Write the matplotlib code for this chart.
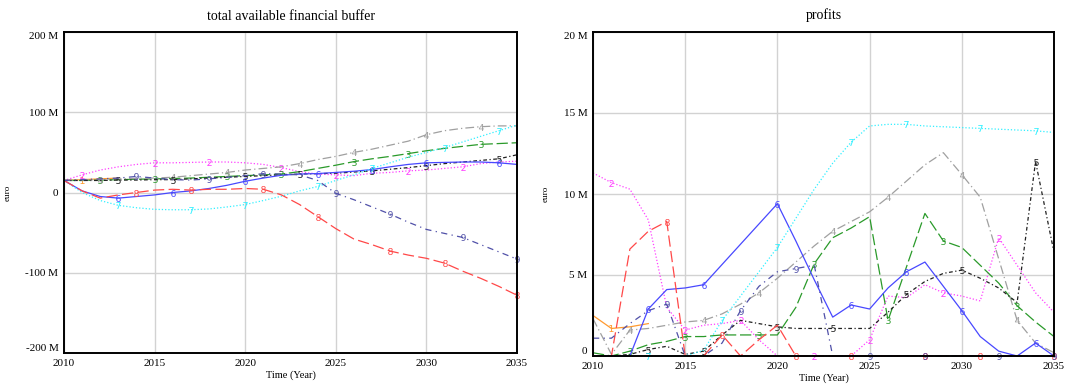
import numpy as np
import matplotlib
matplotlib.use('Agg')
import matplotlib.pyplot as plt

plt.rcParams['font.family'] = ['Liberation Serif', 'DejaVu Serif']

# time axis (annual)
years = np.arange(2010, 2036)
years_1 = np.arange(2010, 2014)

# total available financial buffer, million euro, series 1..9
buf1 = [15, 16, 17, 18]
buf2 = [15, 22, 28, 32, 35, 37, 37, 37.5, 38, 38, 37, 35, 31, 26, 23, 22,
        21, 24, 25, 27, 28, 30, 32, 36, 38, 39]
buf3 = [15, 15, 15.5, 16, 16.5, 17, 17.5, 18, 19, 20, 21, 22, 23, 26, 30, 34,
        38.5, 42, 45, 48.5, 52, 55, 57.5, 60, 61, 62]
buf4 = [15, 15.5, 16, 17, 17.5, 18, 19, 21, 23, 25, 28, 30, 32, 36, 41, 45,
        50, 54, 59, 64, 72, 77, 80, 82, 83, 83]
buf5 = [15, 15, 15, 15.5, 15.5, 16, 16, 17, 18, 19, 20, 21, 22, 23, 23.5, 24,
        25.5, 27, 29, 31, 33.5, 36, 38, 40, 42, 47]
buf6 = [15, 2, -5, -7, -5, -3, 0, 2, 5, 9, 14, 18, 21.5, 23, 23.6, 25, 26.5,
        28.6, 32, 35, 37, 37.5, 38, 38, 37, 35]
buf7 = [15, 0, -10, -16, -19, -21, -21.5, -21.5, -20.5, -18, -15, -10, -4.6,
        2, 7.5, 15, 22, 30, 37, 44, 50, 56, 63, 70, 77, 84]
buf8 = [15, 2, -7, -3, 0, 3, 4, 3, 4, 4, 5, 4, -3, -15, -30, -45, -58, -65,
        -73, -78, -82, -88, -98, -107, -117, -128]
buf9 = [15, 16, 17, 18, 20, 18, 16, 15.5, 17, 19, 21, 23.5, 23, 22, 15, -1,
        -9, -18, -27, -37, -46, -51, -56, -65, -74, -83]

# profits, million euro, series 1..9
prof1 = [2.5, 1.7, 1.8, 2.0]
prof2 = [11.3, 10.7, 10.3, 8.4, 3.0, 1.6, 1.9, 2.0, 2.2, 1.0, 0, 0, 0, 0, 0,
         1.0, 3.7, 3.6, 4.4, 3.9, 3.7, 3.4, 7.3, 5.6, 3.9, 2.7]
prof3 = [0.2, 0, 0.3, 0.7, 0.9, 1.2, 1.2, 1.3, 1.3, 1.3, 1.3, 3.0, 5.7, 7.3,
         7.9, 8.6, 2.2, 5.5, 8.8, 7.1, 6.7, 5.6, 4.5, 3.1, 2.1, 1.2]
prof4 = [2.3, 0.1, 1.6, 1.7, 1.9, 2.1, 2.2, 2.6, 3.2, 3.9, 4.8, 5.8, 6.8, 7.7,
         8.3, 8.9, 9.8, 10.8, 11.8, 12.55, 11.2, 9.8, 6.0, 2.2, 0.8, 0.2]
prof5 = [0, 0, 0.1, 0.4, 0.6, 0.1, 0.3, 1.3, 2.2, 2.0, 1.8, 1.7, 1.7, 1.7,
         1.7, 1.7, 2.7, 3.8, 4.6, 5.1, 5.3, 4.8, 4.2, 3.3, 12.0, 6.4]
prof6 = [0, 0, 0, 2.9, 4.1, 4.2, 4.4, 5.65, 6.9, 8.15, 9.4, 7.1, 4.7, 2.4,
         3.15, 2.9, 4.2, 5.2, 5.8, 4.3, 2.8, 1.2, 0.3, 0, 0.8, 0]
prof7 = [0, 0, 0, 0, 0, 0, 0.35, 2.2, 3.7, 5.2, 6.7, 8.5, 10.3, 11.9, 13.2,
         14.2, 14.3, 14.3, 14.2, 14.15, 14.1, 14.05, 14.0, 13.95, 13.9, 13.8]
prof8 = [0, 0, 6.6, 7.7, 8.3, 0, 0, 1.3, 0, 1.0, 1.9, 0, 0, 0, 0, 0, 0, 0, 0,
         0, 0, 0, 0, 0, 0, 0]
prof9 = [1.1, 1.1, 2.0, 2.8, 3.2, 0, 0, 0.8, 2.8, 4.3, 5.2, 5.4, 5.6, 0, 0, 0,
         0, 0, 0, 0, 0, 0, 0, 0, 0, 0]

buf_ticks = [-200, -100, 0, 100, 200]
buf_labels = ['-200 M', '-100 M', '0', '100 M', '200 M']
prof_ticks = [0, 5, 10, 15, 20]
prof_labels = ['0', '5 M', '10 M', '15 M', '20 M']
year_ticks = [2010, 2015, 2020, 2025, 2030, 2035]

# line styles per series number
colors = {1: '#ff9a30', 2: '#ff40ff', 3: '#2a9a2a', 4: '#a0a0a0', 5: '#202020',
          6: '#4848ff', 7: '#30f0ff', 8: '#ff4848', 9: '#5050a8'}
dashes = {1: None, 2: (1, 1.6), 3: (9, 3), 4: (7, 2.5, 1, 2.5), 5: (3, 2, 1, 2),
          6: None, 7: (1, 1.6), 8: (9, 3.5), 9: (5, 3.5, 1, 3.5)}


def draw_series(ax, x, y, n):
    # number markers spread along the line, staggered per series
    marks = np.round(1 + 0.4 * (n - 1) + 3.5 * np.arange(8)).astype(int)
    marks = [int(m) for m in marks if m < len(y)]
    line, = ax.plot(x, y, color=colors[n], lw=0.9, marker='$%d$' % n,
                    markersize=5, markeredgewidth=0, markevery=marks,
                    clip_on=False)
    if dashes[n] is not None:
        line.set_dashes(dashes[n])


def style_axes(ax, title, ticks, labels):
    ax.set_xlim(2010, 2035)
    ax.set_ylim(ticks[0], ticks[-1])
    ax.set_xticks(year_ticks)
    ax.set_yticks(ticks)
    ax.set_yticklabels(labels)
    ax.grid(True, color='#d2d2d2', lw=1)
    ax.set_axisbelow(True)
    ax.tick_params(length=0, labelsize=8, pad=4)
    tl = ax.get_yticklabels()
    tl[0].set_va('bottom')
    tl[-1].set_va('top')
    for s in ax.spines.values():
        s.set_linewidth(1.4)
        s.set_color('black')
    ax.set_title(title, fontsize=10, pad=9)
    ax.set_xlabel('Time (Year)', fontsize=7.5, labelpad=2)
    ax.set_ylabel('euro', fontsize=6.5)


fig = plt.figure(figsize=(10.67, 3.85), dpi=100)
ax1 = fig.add_axes([64 / 1067, 1 - 353 / 385, 453 / 1067, 321 / 385])
ax2 = fig.add_axes([593 / 1067, 1 - 356 / 385, 461 / 1067, 324 / 385])

bufs = [buf1, buf2, buf3, buf4, buf5, buf6, buf7, buf8, buf9]
profs = [prof1, prof2, prof3, prof4, prof5, prof6, prof7, prof8, prof9]
for n in range(1, 10):
    x = years_1 if n == 1 else years
    draw_series(ax1, x, bufs[n - 1], n)
    draw_series(ax2, x, profs[n - 1], n)

style_axes(ax1, 'total available financial buffer', buf_ticks, buf_labels)
style_axes(ax2, 'profits', prof_ticks, prof_labels)
ax1.yaxis.set_label_coords(-0.115, 0.5)
ax2.yaxis.set_label_coords(-0.095, 0.5)

fig.savefig('out.png', dpi=100)
